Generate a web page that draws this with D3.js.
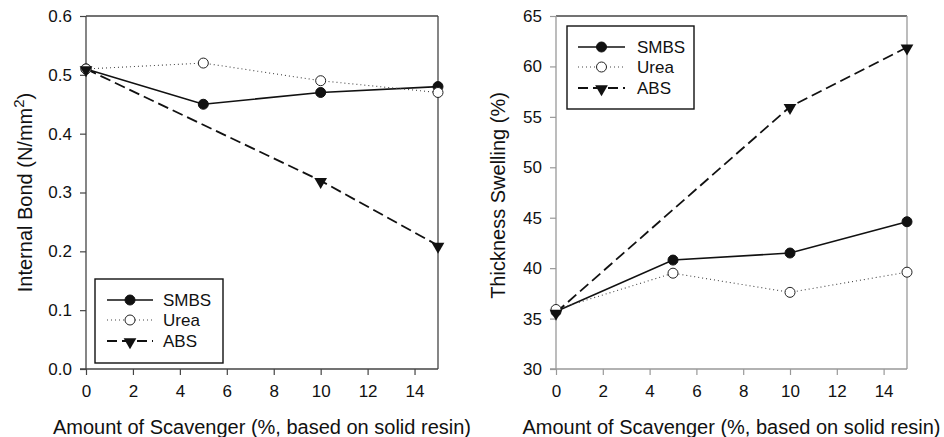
<!DOCTYPE html>
<html><head><meta charset="utf-8">
<script src="https://cdn.jsdelivr.net/npm/d3@7"></script>
<style>
html,body{margin:0;padding:0;background:#fff;}
text{font-family:"Liberation Sans",Arial,sans-serif;fill:#111;}
</style></head>
<body>
<svg id="c" width="944" height="437"></svg>
<script>
// ---- data ----
const seriesNames = ["SMBS", "Urea", "ABS"];
const xValues = [0, 5, 10, 15];
const absX = [0, 10, 15];
const ibSMBS = [0.51, 0.45, 0.47, 0.48];
const ibUrea = [0.51, 0.52, 0.49, 0.47];
const ibABS = [0.51, 0.32, 0.21];
const tsSMBS = [35.7, 40.8, 41.5, 44.6];
const tsUrea = [35.9, 39.5, 37.6, 39.6];
const tsABS = [35.6, 56.0, 61.9];
const xTicks = [0, 2, 4, 6, 8, 10, 12, 14];
const ibTicks = [0.0, 0.1, 0.2, 0.3, 0.4, 0.5, 0.6];
const tsTicks = [30, 35, 40, 45, 50, 55, 60, 65];
const xTitle = "Amount of Scavenger (%, based on solid resin)";

const svg = d3.select("#c");

const styles = {
  SMBS: {dash: null, width: 1.6, color: "#111", marker: "filled"},
  Urea: {dash: "1,3", width: 1.1, color: "#444", marker: "open"},
  ABS:  {dash: "11,5", width: 1.8, color: "#111", marker: "tri"}
};

function drawMarker(g, type, x, y) {
  if (type === "filled") {
    g.append("circle").attr("cx", x).attr("cy", y).attr("r", 5).attr("fill", "#111").attr("stroke", "#111").attr("stroke-width", 1);
  } else if (type === "open") {
    g.append("circle").attr("cx", x).attr("cy", y).attr("r", 5).attr("fill", "#fff").attr("stroke", "#222").attr("stroke-width", 1);
  } else {
    const s = d3.symbol().type(d3.symbolTriangle).size(70)();
    g.append("path").attr("d", s).attr("transform", `translate(${x},${y + 1}) rotate(180)`).attr("fill", "#111");
  }
}

function panel(opts) {
  const {left, right, top, bottom, yDomain, yTicks, yFmt, series, yLabel, legend, axisColor, frameColor} = opts;
  const g = svg.append("g");
  const x = d3.scaleLinear().domain([0, 15]).range([left, right]);
  const y = d3.scaleLinear().domain(yDomain).range([bottom, top]);

  g.append("line").attr("x1", left).attr("x2", right).attr("y1", top).attr("y2", top).attr("stroke", frameColor).attr("stroke-width", 1.3);
  g.append("line").attr("x1", right).attr("x2", right).attr("y1", top).attr("y2", bottom).attr("stroke", axisColor).attr("stroke-width", 1.3);

  const ax = g.append("g").attr("transform", `translate(0,${bottom})`)
    .call(d3.axisBottom(x).tickValues(xTicks).tickSize(6).tickPadding(10).tickFormat(d3.format("d")));
  const ay = g.append("g").attr("transform", `translate(${left},0)`)
    .call(d3.axisLeft(y).tickValues(yTicks).tickSize(6).tickPadding(8).tickFormat(yFmt));
  [ax, ay].forEach(a => {
    a.select(".domain").attr("stroke", axisColor).attr("stroke-width", 1.3);
    a.selectAll(".tick line").attr("stroke", axisColor).attr("stroke-width", 1.2);
    a.selectAll(".tick text").style("font-size", "17px").style("font-family", "Liberation Sans, Arial, sans-serif").attr("fill", "#111");
  });
  ax.select(".domain").attr("d", `M${left - 6},0H${right}`);
  ay.select(".domain").attr("d", `M0,${bottom}V${top}`);

  const line = d3.line().x(d => x(d[0])).y(d => y(d[1]));
  series.forEach(s => {
    const st = styles[s.name];
    g.append("path").datum(s.xs.map((xv, i) => [xv, s.ys[i]]))
      .attr("d", line).attr("fill", "none").attr("stroke", st.color)
      .attr("stroke-width", st.width).attr("stroke-dasharray", st.dash);
  });
  series.forEach(s => {
    const st = styles[s.name];
    s.xs.forEach((xv, i) => drawMarker(g, st.marker, x(xv), y(s.ys[i])));
  });

  const yl = g.append("text")
    .attr("transform", `translate(${opts.yLabelX},${(top + bottom) / 2 + (opts.yLabelDy || 0)}) rotate(-90)`)
    .attr("text-anchor", "middle").style("font-size", "20px");
  yLabel(yl);

  g.append("text").attr("x", (left + right) / 2).attr("y", 434).attr("text-anchor", "middle")
    .style("font-size", "20px").text(xTitle);

  const L = legend;
  g.append("rect").attr("x", L.x).attr("y", L.y).attr("width", L.w).attr("height", L.h)
    .attr("fill", "#fff").attr("stroke", "#111").attr("stroke-width", 1.4);
  seriesNames.forEach((n, i) => {
    const st = styles[n];
    const cy = L.rows[i];
    g.append("line").attr("x1", L.lx1).attr("x2", L.lx2).attr("y1", cy).attr("y2", cy)
      .attr("stroke", st.color).attr("stroke-width", st.width).attr("stroke-dasharray", st.dash === "11,5" ? "10,5" : st.dash);
    drawMarker(g, st.marker, (L.lx1 + L.lx2) / 2, cy);
    g.append("text").attr("x", L.tx).attr("y", cy + 6).style("font-size", "17px").text(n);
  });
}

panel({
  left: 86, right: 438, top: 16, bottom: 369,
  yDomain: [0, 0.6], yTicks: ibTicks, yFmt: d3.format(".1f"),
  axisColor: "#444", frameColor: "#444",
  series: [
    {name: "SMBS", xs: xValues, ys: ibSMBS},
    {name: "Urea", xs: xValues, ys: ibUrea},
    {name: "ABS", xs: absX, ys: ibABS}
  ],
  yLabelX: 32,
  yLabel: t => { t.append("tspan").text("Internal Bond (N/mm"); t.append("tspan").attr("dy", -8).style("font-size", "15px").text("2"); t.append("tspan").attr("dy", 8).text(")"); },
  legend: {x: 95, y: 279, w: 128, h: 84, rows: [300, 320, 341], lx1: 107, lx2: 153, tx: 163}
});

panel({
  left: 556, right: 907, top: 16, bottom: 369,
  yDomain: [30, 65], yTicks: tsTicks, yFmt: d3.format("d"),
  axisColor: "#999", frameColor: "#444",
  series: [
    {name: "SMBS", xs: xValues, ys: tsSMBS},
    {name: "Urea", xs: xValues, ys: tsUrea},
    {name: "ABS", xs: absX, ys: tsABS}
  ],
  yLabelX: 505, yLabelDy: 3,
  yLabel: t => t.text("Thickness Swelling (%)"),
  legend: {x: 567, y: 26, w: 127, h: 83, rows: [47, 67, 88], lx1: 578, lx2: 625, tx: 637}
});
</script>
</body></html>
